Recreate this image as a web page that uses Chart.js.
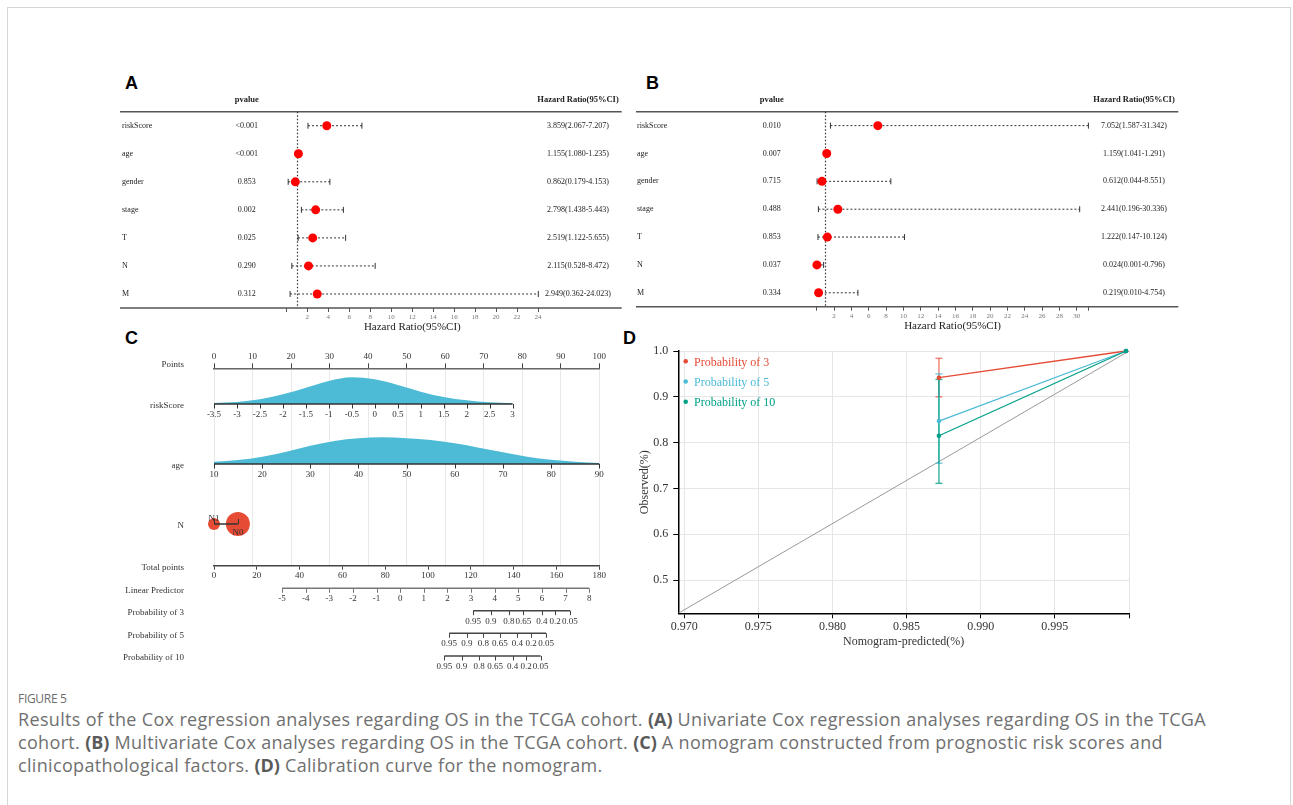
<!DOCTYPE html>
<html>
<head>
<meta charset="utf-8">
<title>Figure 5</title>
<script src="https://cdn.jsdelivr.net/npm/chart.js@4.4.1/dist/chart.umd.min.js"></script>
<style>
  html, body { margin: 0; padding: 0; background: #fff; }
  body { width: 1293px; height: 805px; position: relative; overflow: hidden; }
  .frame { position: absolute; left: 7px; top: 7px; width: 1284px; height: 900px; border: 1.5px solid #d6d6d6; box-sizing: border-box; }
  canvas { position: absolute; }
  .tag { position: absolute; font: bold 18px 'Liberation Sans', Arial, sans-serif; line-height: 18px; color: #000; }
  .fig { position: absolute; left: 18px; top: 690px; font: 12px 'Open Sans', sans-serif; color: #6e6e6e; letter-spacing: -0.3px; }
  .cap { position: absolute; left: 18px; top: 707.5px; font: 18px 'Open Sans', sans-serif; line-height: 23px; color: #707070; white-space: nowrap; letter-spacing: 0.33px; }
  .cap b { color: #5a5a5a; font-weight: 700; letter-spacing: 0; }
</style>
</head>
<body>
<div class="frame"></div>
<div class="tag" style="left:125px; top:74px;">A</div>
<div class="tag" style="left:646px; top:74px;">B</div>
<div class="tag" style="left:125px; top:329px;">C</div>
<div class="tag" style="left:623px; top:329px;">D</div>

<canvas id="forestA" width="520" height="260" style="left:110px; top:80px;"></canvas>
<canvas id="forestB" width="560" height="260" style="left:630px; top:80px;"></canvas>
<canvas id="nomogram" width="510" height="340" style="left:110px; top:340px;"></canvas>
<canvas id="calibration" width="520" height="330" style="left:620px; top:330px;"></canvas>

<div class="fig">FIGURE 5</div>
<div class="cap">Results of the Cox regression analyses regarding OS in the TCGA cohort. <b>(A)</b> Univariate Cox regression analyses regarding OS in the TCGA<br>cohort. <b>(B)</b> Multivariate Cox analyses regarding OS in the TCGA cohort. <b>(C)</b> A nomogram constructed from prognostic risk scores and<br>clinicopathological factors. <b>(D)</b> Calibration curve for the nomogram.</div>

<script>
'use strict';

// ---- A: univariate Cox ----
var coxVars = ['riskScore', 'age', 'gender', 'stage', 'T', 'N', 'M'];
var uniP = ['<0.001', '<0.001', '0.853', '0.002', '0.025', '0.290', '0.312'];
var uniHR = [3.859, 1.155, 0.862, 2.798, 2.519, 2.115, 2.949];
var uniLow = [2.067, 1.080, 0.179, 1.438, 1.122, 0.528, 0.362];
var uniHigh = [7.207, 1.235, 4.153, 5.443, 5.655, 8.472, 24.023];
var uniTicks = [0, 2, 4, 6, 8, 10, 12, 14, 16, 18, 20, 22, 24];

// ---- B: multivariate Cox ----
var multiP = ['0.010', '0.007', '0.715', '0.488', '0.853', '0.037', '0.334'];
var multiHR = [7.052, 1.159, 0.612, 2.441, 1.222, 0.024, 0.219];
var multiLow = [1.587, 1.041, 0.044, 0.196, 0.147, 0.001, 0.010];
var multiHigh = [31.342, 1.291, 8.551, 30.336, 10.124, 0.796, 4.754];
var multiTicks = [0, 2, 4, 6, 8, 10, 12, 14, 16, 18, 20, 22, 24, 26, 28, 30, 31.342];

// ---- C: nomogram ----
var riskScoreTicks = [-3.5, -3, -2.5, -2, -1.5, -1, -0.5, 0, 0.5, 1, 1.5, 2, 2.5, 3];
var riskScorePoints = [0, 77.5];          // points at first / last tick
var riskScoreDensity = [3, 6, 14, 29, 49, 69, 80, 74, 57, 37, 21, 11, 5, 2];
var ageTicks = [10, 20, 30, 40, 50, 60, 70, 80, 90];
var agePoints = [0, 100];
var ageGrid = [10, 15, 20, 25, 30, 35, 40, 45, 50, 55, 60, 65, 70, 75, 80, 85, 90];
var ageDensity = [7, 12, 22, 37, 55, 69, 77, 80, 77, 72, 62, 49, 35, 22, 13, 7, 3];
var nLevels = ['N1', 'N0'];
var nPoints = [0, 6.2];
var nShare = [0.2, 0.8];
var lpTicks = [-5, -4, -3, -2, -1, 0, 1, 2, 3, 4, 5, 6, 7, 8];
var lpTotalPoints = [31.8, 175.3];         // total points at first / last tick
var probLabels = ['0.95', '0.9', '0.8', '0.65', '0.4', '0.2', '0.05'];
var prob3Total = [121.1, 129.3, 137.7, 144.5, 153.2, 159.4, 166.3];
var prob5Total = [109.9, 118.1, 125.8, 133.6, 141.7, 148.2, 155.1];
var prob10Total = [107.6, 115.7, 123.9, 131.3, 139.5, 145.8, 152.6];

// ---- D: calibration ----
var calSeries = ['Probability of 3', 'Probability of 5', 'Probability of 10'];
var calPredicted = [0.98718, 0.9998];
var calObs3 = [0.9417, 1.0];
var calObs5 = [0.847, 1.0];
var calObs10 = [0.815, 1.0];
var calLow = [0.900, 0.755, 0.711];
var calHigh = [0.984, 0.950, 0.938];
var idealX = [0.9696, 1.0];
var idealY = [0.4273, 1.0];
var calXTicks = [0.970, 0.975, 0.980, 0.985, 0.990, 0.995, 1.000];
var calYTicks = [0.5, 0.6, 0.7, 0.8, 0.9, 1.0];

var SERIF = "'Liberation Serif', 'Times New Roman', serif";
var RED = '#E64B35', BLUE = '#4DBBD5', GREEN = '#00A087';

function fmt3(v) { return v.toFixed(3); }

// text columns, frame lines and the HR = 1 reference line of a forest plot
var forestDecor = {
  id: 'forestDecor',
  beforeDatasetsDraw: function (chart) {
    var o = chart.options.plugins.forestDecor;
    if (!o) return;
    var ctx = chart.ctx, area = chart.chartArea, xs = chart.scales.x;
    ctx.save();
    ctx.strokeStyle = '#555';
    ctx.lineWidth = 1.5;
    ctx.beginPath();
    ctx.moveTo(o.lineLeft, area.top); ctx.lineTo(o.lineRight, area.top);
    ctx.moveTo(o.lineLeft, area.bottom); ctx.lineTo(o.lineRight, area.bottom);
    ctx.stroke();
    var x1 = Math.round(xs.getPixelForValue(1)) + 0.5;
    ctx.strokeStyle = '#333';
    ctx.lineWidth = 1.2;
    ctx.setLineDash([1.5, 2]);
    ctx.beginPath();
    ctx.moveTo(x1, area.top); ctx.lineTo(x1, area.bottom);
    ctx.stroke();
    ctx.restore();
  },
  afterDraw: function (chart) {
    var o = chart.options.plugins.forestDecor;
    if (!o) return;
    var ctx = chart.ctx, area = chart.chartArea, ys = chart.scales.y;
    ctx.save();
    ctx.fillStyle = '#222';
    ctx.textBaseline = 'middle';
    ctx.font = 'bold 8.5px ' + SERIF;
    ctx.textAlign = 'center';
    ctx.fillText('pvalue', o.pX, area.top - 11.5);
    ctx.fillText('Hazard Ratio(95%CI)', o.hrX, area.top - 11.5);
    ctx.font = '8px ' + SERIF;
    o.names.forEach(function (n, i) {
      var y = ys.getPixelForValue(i);
      ctx.textAlign = 'left';
      ctx.fillText(n, o.nameX, y);
      ctx.textAlign = 'center';
      ctx.fillText(o.pvals[i], o.pX, y);
      ctx.fillText(fmt3(o.hr[i]) + '(' + fmt3(o.lo[i]) + '-' + fmt3(o.hi[i]) + ')', o.hrX, y);
    });
    ctx.restore();
  }
};

function drawForest(id, pvals, hr, lo, hi, ticks, layout) {
  var datasets = [];
  coxVars.forEach(function (n, i) {
    datasets.push({
      type: 'line',
      data: [{ x: lo[i], y: n }, { x: hi[i], y: n }],
      borderColor: '#333', borderWidth: 1, borderDash: [2, 2],
      pointStyle: 'line', pointRotation: 90, pointRadius: 3, pointHoverRadius: 3,
      pointBorderColor: '#333', pointBorderWidth: 1,
      clip: false, order: 1
    });
  });
  datasets.push({
    type: 'scatter',
    data: coxVars.map(function (n, i) { return { x: hr[i], y: n }; }),
    backgroundColor: '#ff0000', borderWidth: 0,
    pointRadius: 4.5, pointHoverRadius: 4.5,
    clip: false, order: 0
  });

  var el = document.getElementById(id);
  return new Chart(el.getContext('2d'), {
    type: 'scatter',
    data: { datasets: datasets },
    options: {
      responsive: false, animation: false, devicePixelRatio: 1, events: [],
      layout: { padding: layout.padding },
      plugins: {
        legend: { display: false },
        tooltip: { enabled: false },
        forestDecor: {
          names: coxVars, pvals: pvals, hr: hr, lo: lo, hi: hi,
          nameX: layout.nameX, pX: layout.pX, hrX: layout.hrX,
          lineLeft: layout.lineLeft, lineRight: layout.lineRight
        }
      },
      scales: {
        x: {
          type: 'linear', min: 0, max: Math.max.apply(null, hi),
          afterBuildTicks: function (s) { s.ticks = ticks.map(function (v) { return { value: v }; }); },
          afterFit: function (s) { s.height = 26; },
          ticks: {
            autoSkip: false, maxRotation: 0, padding: 1, color: '#777',
            font: { family: SERIF, size: 7 },
            callback: function (v) { return (v === 0 || v % 2 !== 0) ? '' : String(v); }
          },
          grid: { display: true, drawOnChartArea: false, tickLength: 4, tickColor: '#555' },
          border: { display: false },
          title: {
            display: true, text: 'Hazard Ratio(95%CI)', color: '#222',
            font: { family: SERIF, size: 11 }, padding: { top: 0, bottom: 0 }
          }
        },
        y: { type: 'category', labels: coxVars, offset: true, display: false }
      }
    },
    plugins: [forestDecor]
  });
}

drawForest('forestA', uniP, uniHR, uniLow, uniHigh, uniTicks, {
  padding: { left: 176.3, right: 91.7, top: 31.7, bottom: 6 },
  nameX: 12, pX: 136.7, hrX: 468, lineLeft: 10, lineRight: 511.7
});
drawForest('forestB', multiP, multiHR, multiLow, multiHigh, multiTicks, {
  padding: { left: 186.7, right: 101.6, top: 31.7, bottom: 7.3 },
  nameX: 7, pX: 141.7, hrX: 504, lineLeft: 6, lineRight: 548.3
});

// ---------------- C: nomogram ----------------
// vertical row positions, in pixels below the Points axis
var ROW = { points: 0, riskScore: 35.7, age: 95.7, n: 155.7, total: 197.4, lp: 220, p3: 242.4, p5: 265, p10: 287.7 };
var DENSITY_PEAK = 26.7;

function mapLinear(v, ticks, range) {
  var v0 = ticks[0], v1 = ticks[ticks.length - 1];
  return range[0] + (v - v0) / (v1 - v0) * (range[1] - range[0]);
}
function densityData(grid, dens, ticks, range, base) {
  var peak = Math.max.apply(null, dens);
  return grid.map(function (v, i) {
    return { x: mapLinear(v, ticks, range), y: base - dens[i] / peak * DENSITY_PEAK };
  });
}

var nomoRows = [
  { label: 'Points', y: ROW.points, dy: -4 },
  { label: 'riskScore', y: ROW.riskScore, dy: 2 },
  { label: 'age', y: ROW.age, dy: 2 },
  { label: 'N', y: ROW.n, dy: 2 },
  { label: 'Total points', y: ROW.total, dy: 2 },
  { label: 'Linear Predictor', y: ROW.lp, dy: 2.5 },
  { label: 'Probability of 3', y: ROW.p3, dy: 2 },
  { label: 'Probability of 5', y: ROW.p5, dy: 2 },
  { label: 'Probability of 10', y: ROW.p10, dy: 2 }
];

function drawAxisRow(ctx, xs, labels, y, tickUp, color) {
  var lo = Math.min.apply(null, xs), hi = Math.max.apply(null, xs);
  ctx.strokeStyle = color;
  ctx.lineWidth = 1.5;
  ctx.beginPath(); ctx.moveTo(lo, y); ctx.lineTo(hi, y); ctx.stroke();
  ctx.lineWidth = 1;
  ctx.beginPath();
  xs.forEach(function (x) {
    var xx = Math.round(x) + 0.5;
    ctx.moveTo(xx, y); ctx.lineTo(xx, tickUp ? y - 5 : y + 4.5);
  });
  ctx.stroke();
  if (!labels) return;
  ctx.textAlign = 'center';
  xs.forEach(function (x, i) { ctx.fillText(labels[i], x, y + 10.5); });
}

var nomogramAxes = {
  id: 'nomogramAxes',
  afterDatasetsDraw: function (chart) {
    var ctx = chart.ctx, xp = chart.scales.x, xt = chart.scales.xTotal, ys = chart.scales.y, area = chart.chartArea;
    ctx.save();
    ctx.font = '9px ' + SERIF;
    ctx.fillStyle = '#333';
    ctx.textBaseline = 'middle';
    ctx.textAlign = 'right';
    nomoRows.forEach(function (r) { ctx.fillText(r.label, area.left - 30, ys.getPixelForValue(r.y) + r.dy); });

    var rsX = riskScoreTicks.map(function (v) { return xp.getPixelForValue(mapLinear(v, riskScoreTicks, riskScorePoints)); });
    drawAxisRow(ctx, rsX, riskScoreTicks.map(String), ys.getPixelForValue(ROW.riskScore), false, '#333');
    var ageX = ageTicks.map(function (v) { return xp.getPixelForValue(mapLinear(v, ageTicks, agePoints)); });
    drawAxisRow(ctx, ageX, ageTicks.map(String), ys.getPixelForValue(ROW.age), false, '#333');

    var nY = ys.getPixelForValue(ROW.n);
    var nX = nPoints.map(function (p) { return xp.getPixelForValue(p); });
    drawAxisRow(ctx, nX, null, nY, true, '#333');
    ctx.textAlign = 'center';
    ctx.fillText(nLevels[0], nX[0], nY - 5);
    ctx.fillText(nLevels[1], nX[1], nY + 8.5);

    var lpX = lpTicks.map(function (v) { return xt.getPixelForValue(mapLinear(v, lpTicks, lpTotalPoints)); });
    drawAxisRow(ctx, lpX, lpTicks.map(String), ys.getPixelForValue(ROW.lp), false, '#777');
    [[prob3Total, ROW.p3], [prob5Total, ROW.p5], [prob10Total, ROW.p10]].forEach(function (row) {
      var px = row[0].map(function (t) { return xt.getPixelForValue(t); });
      drawAxisRow(ctx, px, probLabels, ys.getPixelForValue(row[1]), false, '#444');
    });
    ctx.restore();
  }
};

(function () {
  var el = document.getElementById('nomogram');
  var nomoFont = { family: SERIF, size: 9 };
  new Chart(el.getContext('2d'), {
    type: 'scatter',
    data: {
      datasets: [
        {
          type: 'line', label: 'riskScore',
          data: densityData(riskScoreTicks, riskScoreDensity, riskScoreTicks, riskScorePoints, ROW.riskScore),
          fill: { value: ROW.riskScore }, backgroundColor: BLUE, borderWidth: 0, borderColor: BLUE,
          pointRadius: 0, cubicInterpolationMode: 'monotone', xAxisID: 'x', yAxisID: 'y', order: 2
        },
        {
          type: 'line', label: 'age',
          data: densityData(ageGrid, ageDensity, ageTicks, agePoints, ROW.age),
          fill: { value: ROW.age }, backgroundColor: BLUE, borderWidth: 0, borderColor: BLUE,
          pointRadius: 0, cubicInterpolationMode: 'monotone', xAxisID: 'x', yAxisID: 'y', order: 2
        },
        {
          type: 'scatter', label: 'N',
          data: nPoints.map(function (p) { return { x: p, y: ROW.n }; }),
          pointRadius: nShare.map(function (s) { return 13.4 * Math.sqrt(s); }),
          backgroundColor: RED, borderWidth: 0, xAxisID: 'x', yAxisID: 'y', order: 1, clip: false
        }
      ]
    },
    options: {
      responsive: false, animation: false, devicePixelRatio: 1, events: [],
      layout: { padding: { left: 104, right: 20.7, top: 12.3, bottom: 98.3 } },
      plugins: { legend: { display: false }, tooltip: { enabled: false } },
      scales: {
        x: {
          type: 'linear', position: 'top', min: 0, max: 100,
          afterFit: function (s) { s.height = 16; },
          ticks: { stepSize: 10, maxRotation: 0, padding: 1, color: '#333', font: nomoFont },
          grid: { color: '#e8e8e8', tickColor: '#444', tickLength: 5 },
          border: { color: '#666', width: 1.5 }
        },
        xTotal: {
          type: 'linear', axis: 'x', position: 'bottom', min: 0, max: 180,
          afterFit: function (s) { s.height = 16; },
          ticks: { stepSize: 20, maxRotation: 0, padding: 1, color: '#333', font: nomoFont },
          grid: { drawOnChartArea: false, tickColor: '#444', tickLength: 4 },
          border: { color: '#444', width: 1.5 }
        },
        y: { type: 'linear', reverse: true, min: 0, max: ROW.total, display: false }
      }
    },
    plugins: [nomogramAxes]
  });
})();

// ---------------- D: calibration ----------------
var insideLegend = {
  id: 'insideLegend',
  afterDatasetsDraw: function (chart) {
    var o = chart.options.plugins.insideLegend;
    var ctx = chart.ctx, area = chart.chartArea;
    ctx.save();
    ctx.font = '12px ' + SERIF;
    ctx.textBaseline = 'middle';
    ctx.textAlign = 'left';
    o.labels.forEach(function (t, i) {
      var y = area.top + 11.7 + i * 20.3;
      ctx.fillStyle = o.colors[i];
      ctx.beginPath(); ctx.arc(area.left + 7.4, y - 1.5, 2.3, 0, Math.PI * 2); ctx.fill();
      ctx.fillText(t, area.left + 15.7, y);
    });
    ctx.restore();
  }
};

(function () {
  var colors = [RED, BLUE, GREEN];
  var barColors = ['rgba(230,75,53,0.65)', 'rgba(77,187,213,0.7)', 'rgba(0,160,135,0.75)'];
  var observed = [calObs3, calObs5, calObs10];
  var datasets = [{
    type: 'line', label: 'ideal',
    data: idealX.map(function (x, i) { return { x: x, y: idealY[i] }; }),
    borderColor: '#9a9a9a', borderWidth: 1, pointRadius: 0, order: 9
  }];
  calSeries.forEach(function (name, k) {
    datasets.push({
      type: 'line', label: name + ' CI',
      data: [{ x: calPredicted[0], y: calLow[k] }, { x: calPredicted[0], y: calHigh[k] }],
      borderColor: barColors[k], borderWidth: 1.5,
      pointStyle: 'line', pointRadius: 3.5, pointBorderColor: barColors[k], pointBorderWidth: 1.5,
      clip: false, order: 6 - k
    });
    datasets.push({
      type: 'line', label: name,
      data: calPredicted.map(function (x, i) { return { x: x, y: observed[k][i] }; }),
      borderColor: colors[k], backgroundColor: colors[k], borderWidth: 1.3,
      pointRadius: 2.3, pointBorderWidth: 0, clip: false, order: 3 - k
    });
  });

  var calFont = { family: SERIF, size: 12 };
  var el = document.getElementById('calibration');
  new Chart(el.getContext('2d'), {
    type: 'scatter',
    data: { datasets: datasets },
    options: {
      responsive: false, animation: false, devicePixelRatio: 1, events: [],
      layout: { padding: { left: 13.8, right: 11, top: 21, bottom: 6.7 } },
      plugins: {
        legend: { display: false }, tooltip: { enabled: false },
        insideLegend: { labels: calSeries, colors: colors }
      },
      scales: {
        x: {
          type: 'linear', min: idealX[0], max: 1.0,
          afterBuildTicks: function (s) { s.ticks = calXTicks.map(function (v) { return { value: v }; }); },
          afterFit: function (s) { s.height = 40; },
          ticks: {
            autoSkip: false, maxRotation: 0, padding: 1, color: '#333', font: calFont,
            callback: function (v) { return v >= 0.9999 ? '' : v.toFixed(3); }
          },
          grid: { color: '#e6e6e6', tickColor: '#000', tickLength: 5 },
          border: { color: '#000', width: 1.5 },
          title: { display: true, text: 'Nomogram-predicted(%)', color: '#333', font: calFont, padding: { top: 0, bottom: 4 } }
        },
        y: {
          type: 'linear', min: idealY[0], max: 1.0,
          afterBuildTicks: function (s) { s.ticks = calYTicks.map(function (v) { return { value: v }; }); },
          afterFit: function (s) { s.width = 44.5; },
          ticks: {
            autoSkip: false, padding: 5, color: '#333', font: calFont,
            callback: function (v) { return v.toFixed(1); }
          },
          grid: { color: '#e6e6e6', tickColor: '#000', tickLength: 5 },
          border: { color: '#000', width: 1.5 },
          title: { display: true, text: 'Observed(%)', color: '#333', font: calFont, padding: { top: 4, bottom: 0 } }
        }
      }
    },
    plugins: [insideLegend]
  });
})();
</script>
</body>
</html>
